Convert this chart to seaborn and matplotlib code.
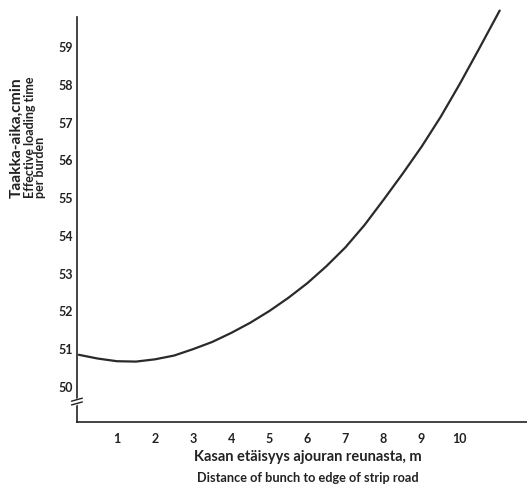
import numpy as np
import pandas as pd
import matplotlib
matplotlib.use("Agg")
import matplotlib.pyplot as plt
import matplotlib.transforms as mtransforms
import seaborn as sns

sns.set_theme(style="white")
plt.rcParams["font.family"] = ["Lato", "DejaVu Sans"]
plt.rcParams["font.weight"] = "bold"

# distance of bunch to strip road edge (m) and effective loading time (cmin)
distance = [0.0, 0.5, 1.0, 1.5, 2.0, 2.5, 3.0, 3.5, 4.0, 4.5, 5.0, 5.5, 6.0, 6.5,
            7.0, 7.5, 8.0, 8.5, 9.0, 9.5, 10.0, 10.5, 11.05]
loading_time = [50.82, 50.72, 50.65, 50.64, 50.70, 50.80, 50.97, 51.16, 51.40, 51.67,
                51.98, 52.33, 52.72, 53.17, 53.67, 54.26, 54.93, 55.62, 56.34, 57.13,
                58.00, 58.92, 59.95]

x_ticks = [1, 2, 3, 4, 5, 6, 7, 8, 9, 10]
y_ticks = [50, 51, 52, 53, 54, 55, 56, 57, 58, 59]

df = pd.DataFrame({"distance": distance, "time": loading_time})

fig = plt.figure(figsize=(5.27, 4.85), dpi=100)
ax = fig.add_axes([0.146, 0.128, 0.86, 0.856])

sns.lineplot(data=df, x="distance", y="time", ax=ax, color="#2a2a2a", linewidth=1.6)

ax.set_xlim(-0.05, 11.85)
ax.set_ylim(49.04, 60.05)
ax.set_xticks(x_ticks)
ax.set_yticks(y_ticks)
ax.set_xlabel("")
ax.set_ylabel("")

for s in ["top", "right"]:
    ax.spines[s].set_visible(False)
ax.spines["left"].set_bounds(49.04, 59.78)
for s in ["left", "bottom"]:
    ax.spines[s].set_color("#222222")
    ax.spines[s].set_linewidth(1.2)

ax.tick_params(axis="both", direction="out", length=2, width=1.2, color="#222222",
               labelsize=9, labelcolor="#222222")
ax.tick_params(axis="x", pad=5)
ax.tick_params(axis="y", pad=1)
for lab in ax.get_xticklabels() + ax.get_yticklabels():
    lab.set_fontweight("bold")

# axis break on the y axis
trans = mtransforms.blended_transform_factory(ax.transAxes, ax.transData)
ax.plot([-0.0015, 0.0015], [49.52, 49.62], transform=trans, color="white",
        linewidth=2.5, clip_on=False, zorder=5)
for dy in [0.0, 0.1]:
    ax.plot([-0.012, 0.012], [49.49 + dy, 49.57 + dy], transform=trans,
            color="#222222", linewidth=1.0, clip_on=False, zorder=6)

fig.text(0.585, 0.058, "Kasan etäisyys ajouran reunasta, m", ha="center", va="center",
         fontsize=10.5, fontweight="bold", color="#222222")
fig.text(0.585, 0.014, "Distance of bunch to edge of strip road", ha="center", va="center",
         fontsize=9.2, fontweight="bold", color="#222222")

fig.text(0.032, 0.592, "Taakka-aika,cmin", rotation=90, ha="center", va="bottom",
         fontsize=11.2, fontweight="bold", color="#222222")
fig.text(0.066, 0.592, "Effective loading time\nper burden", rotation=90, ha="center",
         va="bottom", multialignment="left", linespacing=0.85,
         fontsize=9, fontweight="bold", color="#222222")

fig.savefig("out.png", dpi=100)
